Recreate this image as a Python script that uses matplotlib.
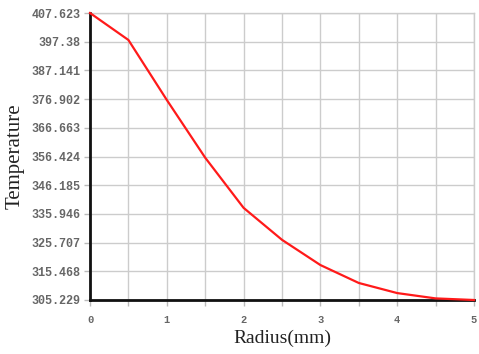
import matplotlib
matplotlib.use("Agg")
import matplotlib.pyplot as plt
import numpy as np

radius = [0, 0.5, 1.0, 1.5, 2.0, 2.5, 3.0, 3.5, 4.0, 4.5, 5.0]
temperature = [407.623, 398.0, 376.6, 356.0, 338.1, 326.7, 317.7, 311.3, 307.7, 305.8, 305.229]
yticks = [305.229, 315.468, 325.707, 335.946, 346.185, 356.424, 366.663, 376.902, 387.141, 397.38, 407.623]
ytick_labels = ["305.229", "315.468", "325.707", "335.946", "346.185", "356.424",
                "366.663", "376.902", "387.141", "397.38", "407.623"]
xticks = [0, 0.5, 1, 1.5, 2, 2.5, 3, 3.5, 4, 4.5, 5]
xtick_labels = ["0", "", "1", "", "2", "", "3", "", "4", "", "5"]

fig = plt.figure(figsize=(4.79, 3.54), dpi=100)
ax = fig.add_axes([90/479, 54/354, 384/479, 287/354])

ax.plot(radius, temperature, color="#ff1a1a", lw=1.6, clip_on=False, zorder=3)
ax.set_xlim(0, 5)
ax.set_ylim(305.229, 407.623)
ax.set_xticks(xticks)
ax.set_xticklabels(xtick_labels)
ax.set_yticks(yticks)
ax.set_yticklabels(ytick_labels)
ax.grid(True, color="#cccccc", lw=1.0)
ax.set_axisbelow(True)

for s in ["top", "right"]:
    ax.spines[s].set_color("#cccccc")
    ax.spines[s].set_linewidth(1.0)
for s in ["left", "bottom"]:
    ax.spines[s].set_color("#111111")
    ax.spines[s].set_linewidth(2.0)

ax.tick_params(axis="both", length=4, width=1, color="#bbbbbb",
               labelcolor="#666666", labelsize=8.5)
for lab in ax.get_yticklabels():
    lab.set_family("Liberation Mono")
    lab.set_fontweight("bold")
for lab in ax.get_xticklabels():
    lab.set_family("Liberation Mono")
    lab.set_fontweight("bold")
    lab.set_fontsize(7.5)
ax.tick_params(axis="x", pad=7)
ax.tick_params(axis="y", pad=3)

ax.set_xlabel("Radius(mm)", family="Liberation Serif", fontsize=14, color="#222222", labelpad=3)
ax.set_ylabel("Temperature", family="Liberation Serif", fontsize=15, color="#222222", labelpad=5)

fig.savefig("out.png", dpi=100)
